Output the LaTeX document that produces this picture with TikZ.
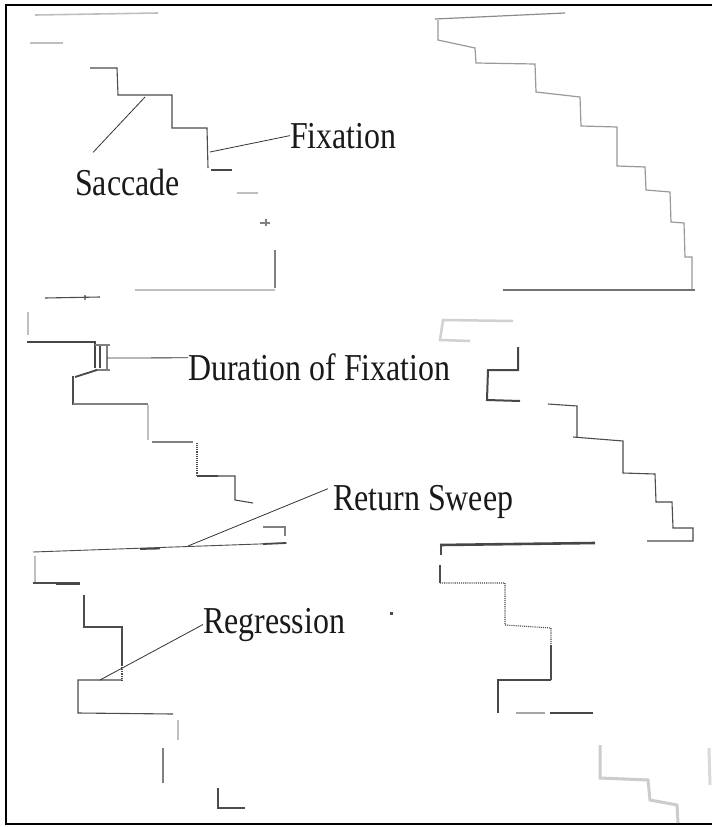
\documentclass[tikz,border=0pt]{standalone}
\usepackage{fontspec}
\setmainfont{Liberation Serif}
\newcommand\narrowtxt[1]{\scalebox{0.84}[1]{#1}}
\begin{document}
\begin{tikzpicture}[x=1pt,y=-1pt,
  lbl/.style={font=\fontsize{38}{40}\selectfont, inner sep=0pt, text=black!90},
  trace/.style={draw=black!70, line width=1.1pt},
  heavy/.style={draw=black!72, line width=2.4pt},
  faint/.style={draw=black!25, line width=1.6pt},
  mid/.style={draw=black!50, line width=1.2pt},
  dots/.style={draw=black!70, line width=1.1pt, densely dotted},
  leader/.style={draw=black!80, line width=0.8pt},
  frame/.style={draw=black, line width=1.6pt}]
\useasboundingbox (0,0) rectangle (712,827);
\fill[white] (0,0) rectangle (712,827);
% frame (open on the right)
\draw[frame] (712,5) -- (6,5) -- (6,824) -- (712,824);

% ---------- labels ----------
\node[lbl, anchor=base west] (sac) at (75,195) {\narrowtxt{Saccade}};
\node[lbl, anchor=base west] (fix) at (290,148) {\narrowtxt{Fixation}};
\node[lbl, anchor=base west] (dur) at (188,380) {\narrowtxt{Duration of Fixation}};
\node[lbl, anchor=base west] (ret) at (333,510) {\narrowtxt{Return Sweep}};
\node[lbl, anchor=base west] (reg) at (203,633) {\narrowtxt{Regression}};

% ---------- top left block ----------
\draw[faint] (35,15) -- (158,13);
\draw[faint] (30,43) -- (63,43);
\draw[trace] (90,68) -- (117,68) -- (118,95) -- (172,95) -- (172,128) -- (207,128) -- (208,168);
\draw[heavy, line width=1.8pt] (211,170) -- (232,170);
\draw[faint] (237,193) -- (258,193);
\draw[mid] (260,223) -- (270,223) (266,219) -- (266,226);
\draw[mid] (275,250) -- (275,288);
\draw[faint] (135,290) -- (275,290);

% ---------- second block left ----------
\draw[trace] (45,298) -- (100,297) (85,295) -- (85,300);
\draw[faint] (28,312) -- (28,335);
\draw[heavy] (27,342) -- (95,342) -- (95,368);
\draw[trace] (100,345) -- (100,368);
\draw[mid] (95,345) -- (110,345) (107,345) -- (107,370) (95,370) -- (110,370);
\draw[heavy, line width=1.8pt] (75,377) -- (97,370);
\draw[trace] (73,376) -- (73,405);
\draw[mid] (73,404) -- (148,404);
\draw[faint] (148,405) -- (148,440);
\draw[mid] (152,442) -- (193,442);
\draw[dots] (197,443) -- (197,475);
\draw[heavy, line width=1.8pt] (197,476) -- (218,476);
\draw[trace] (218,476) -- (235,476) -- (235,500) -- (253,503);
\draw[mid] (263,527) -- (285,527) -- (285,536);
% return sweep line
\draw[trace, line width=0.9pt] (33,552) -- (287,543);
\draw[heavy, line width=1.8pt] (140,549) -- (160,548.5) (263,544) -- (286,543);

% ---------- third block left ----------
\draw[faint] (35,556) -- (35,582);
\draw[trace] (33,583) -- (80,583);
\draw[heavy, line width=1.6pt] (56,584) -- (80,584);
\draw[trace] (84,595) -- (84,627) -- (122,627) -- (122,665);
\draw[dots] (122,665) -- (122,680);
\draw[trace] (122,680) -- (78,680) -- (78,713) -- (173,714);
\draw[faint] (178,720) -- (178,740);
\draw[mid] (163,748) -- (163,783);
\draw[trace] (218,788) -- (218,808) -- (245,808);

% ---------- top right staircase ----------
\draw[mid, draw=black!45] (435,19) -- (565,13);
\draw[mid, draw=black!40] (438,20) -- (438,40) -- (475,48) -- (476,63) -- (535,64)
  -- (536,92) -- (580,97) -- (581,126) -- (617,127) -- (617,166) -- (645,167)
  -- (646,190) -- (670,192) -- (671,222) -- (684,223) -- (685,257) -- (692,257) -- (692,290);
\draw[mid, draw=black!55] (503,290) -- (695,290);

% ---------- middle right staircase ----------
\draw[faint, draw=black!18, line width=2.5pt] (513,321) -- (443,320) -- (440,340) -- (470,341);
\draw[heavy, line width=2pt] (518,347) -- (518,370) -- (488,370) -- (487,400) -- (520,401);
\draw[trace] (548,404) -- (577,406) -- (577,437);
\draw[trace] (573,437) -- (623,441) -- (623,473) -- (655,474) -- (656,502) -- (672,502)
  -- (673,528) -- (693,528) -- (693,541) -- (647,541);
\draw[heavy, line width=2.6pt] (440,545) -- (595,543);
\draw[trace] (441,545) -- (441,555);

% ---------- bottom right ----------
\draw[trace] (440,565) -- (440,583);
\draw[dots] (440,583) -- (505,583) -- (505,625) -- (551,628) -- (551,645);
\draw[trace] (551,645) -- (551,680);
\draw[heavy, line width=1.6pt] (551,680) -- (498,680) -- (498,713);
\draw[heavy, draw=black!35, line width=1.6pt] (516,713) -- (545,713);
\draw[heavy, line width=2pt] (550,713) -- (593,713);
\fill[black!70] (389.5,611.5) rectangle (392.5,614.5);
\draw[faint, draw=black!20, line width=3pt] (600,745) -- (600,778) -- (648,780) -- (650,800) -- (677,805) -- (678,823);
\draw[faint, draw=black!15, line width=3pt] (709,748) -- (710,785);

% ---------- leaders ----------
\coordinate (sacP) at (145,97);
\coordinate (fixP) at (210,152);
\coordinate (durP) at (107,358);
\coordinate (retP) at (188,546);
\coordinate (regP) at (100,680);
\draw[leader] (sacP) -- ([shift={(18pt,16pt)}]sac.north west);
\draw[leader] (fixP) -- (fix.west);
\draw[leader] (durP) -- ([yshift=9pt]dur.west);
\draw[leader] (retP) -- ([shift={(-5pt,-4pt)}]ret.north west);
\draw[leader] (regP) -- (reg.west);
\end{tikzpicture}
\end{document}
